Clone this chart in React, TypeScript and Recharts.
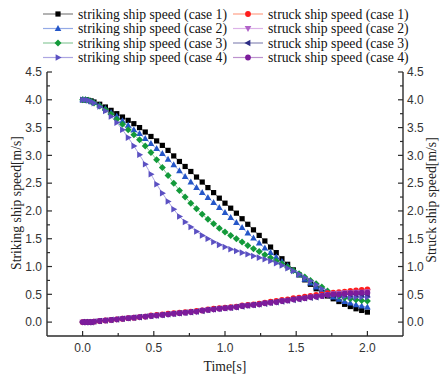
import React from 'react';
import { LineChart, Line, XAxis, YAxis } from 'recharts';

// time axis [s]
const times = [
  0, 0.02, 0.04, 0.06, 0.08, 0.12, 0.16, 0.2, 0.24, 0.28, 0.32, 0.36, 0.4, 0.44, 0.48,
  0.52, 0.56, 0.6, 0.64, 0.68, 0.72, 0.76, 0.8, 0.84, 0.88, 0.92, 0.96, 1.0, 1.04, 1.08,
  1.12, 1.16, 1.2, 1.24, 1.28, 1.32, 1.36, 1.4, 1.44, 1.48, 1.52, 1.56, 1.6, 1.64, 1.68,
  1.72, 1.76, 1.8, 1.84, 1.88, 1.92, 1.96, 2.0,
];

// striking ship speed [m/s]
const striking1 = [
  4.0, 4.0, 3.99, 3.98, 3.96,
  3.92, 3.87, 3.81, 3.75, 3.69, 3.63, 3.57, 3.5, 3.42, 3.34,
  3.26, 3.18, 3.09, 2.99, 2.89, 2.8, 2.71, 2.61, 2.52, 2.42,
  2.33, 2.23, 2.14, 2.05, 1.96, 1.86, 1.76, 1.66, 1.56, 1.46,
  1.35, 1.25, 1.14, 1.04, 0.94, 0.85, 0.76, 0.68, 0.6, 0.53,
  0.47, 0.42, 0.37, 0.32, 0.28, 0.24, 0.21, 0.18,
];
const striking2 = [
  4.0, 4.0, 3.99, 3.97, 3.95,
  3.9, 3.84, 3.77, 3.7, 3.62, 3.54, 3.46, 3.39, 3.3, 3.21,
  3.12, 3.03, 2.93, 2.83, 2.72, 2.62, 2.52, 2.42, 2.33, 2.24,
  2.15, 2.06, 1.97, 1.88, 1.79, 1.7, 1.6, 1.51, 1.42, 1.33,
  1.25, 1.17, 1.09, 1.01, 0.93, 0.85, 0.77, 0.7, 0.63, 0.56,
  0.5, 0.45, 0.41, 0.37, 0.34, 0.31, 0.29, 0.27,
];
const striking3 = [
  4.0, 4.0, 3.99, 3.97, 3.94,
  3.89, 3.82, 3.74, 3.65, 3.56, 3.46, 3.37, 3.28, 3.17, 3.05,
  2.92, 2.78, 2.64, 2.5, 2.37, 2.25, 2.14, 2.04, 1.94, 1.85,
  1.77, 1.69, 1.62, 1.56, 1.5, 1.44, 1.38, 1.32, 1.27, 1.21,
  1.16, 1.1, 1.05, 0.99, 0.93, 0.87, 0.81, 0.75, 0.69, 0.63,
  0.56, 0.51, 0.47, 0.44, 0.42, 0.4, 0.39, 0.38,
];
const striking4 = [
  4.0, 4.0, 3.99, 3.97, 3.94,
  3.88, 3.8, 3.7, 3.59, 3.46, 3.32, 3.17, 3.01, 2.84, 2.66,
  2.48, 2.32, 2.17, 2.03, 1.9, 1.8, 1.71, 1.63, 1.56, 1.5,
  1.44, 1.39, 1.35, 1.31, 1.28, 1.25, 1.22, 1.19, 1.16, 1.13,
  1.1, 1.06, 1.02, 0.97, 0.92, 0.86, 0.8, 0.74, 0.67, 0.6,
  0.54, 0.5, 0.48, 0.46, 0.45, 0.45, 0.45, 0.45,
];

// struck ship speed [m/s]
const struck1 = [
  0, 0, 0, 0, 0.01,
  0.02, 0.03, 0.04, 0.05, 0.06, 0.07, 0.08, 0.09, 0.1, 0.12,
  0.13, 0.14, 0.15, 0.16, 0.17, 0.18, 0.19, 0.2, 0.21, 0.23,
  0.24, 0.25, 0.26, 0.27, 0.28, 0.3, 0.31, 0.32, 0.33, 0.35,
  0.37, 0.38, 0.4, 0.41, 0.43, 0.44, 0.46, 0.47, 0.49, 0.5,
  0.52, 0.53, 0.54, 0.55, 0.56, 0.57, 0.58, 0.59,
];
const struck2 = [
  0, 0, 0, 0, 0.01,
  0.02, 0.03, 0.04, 0.05, 0.06, 0.07, 0.08, 0.09, 0.1, 0.11,
  0.12, 0.13, 0.14, 0.15, 0.16, 0.17, 0.18, 0.19, 0.21, 0.22,
  0.23, 0.24, 0.25, 0.26, 0.27, 0.29, 0.3, 0.31, 0.32, 0.34,
  0.35, 0.36, 0.38, 0.39, 0.41, 0.42, 0.43, 0.45, 0.46, 0.48,
  0.5, 0.51, 0.52, 0.53, 0.53, 0.54, 0.54, 0.55,
];
const struck3 = [
  0, 0, 0, 0, 0.01,
  0.02, 0.03, 0.04, 0.05, 0.06, 0.07, 0.08, 0.09, 0.1, 0.11,
  0.12, 0.13, 0.14, 0.15, 0.16, 0.17, 0.18, 0.19, 0.2, 0.22,
  0.23, 0.24, 0.25, 0.26, 0.27, 0.28, 0.3, 0.31, 0.32, 0.33,
  0.35, 0.36, 0.37, 0.39, 0.4, 0.41, 0.43, 0.44, 0.45, 0.47,
  0.48, 0.49, 0.49, 0.5, 0.5, 0.5, 0.5, 0.5,
];
const struck4 = [
  0, 0, 0, 0, 0.01,
  0.02, 0.03, 0.04, 0.05, 0.06, 0.07, 0.08, 0.09, 0.1, 0.11,
  0.12, 0.13, 0.14, 0.15, 0.16, 0.17, 0.18, 0.19, 0.21, 0.22,
  0.23, 0.24, 0.25, 0.26, 0.27, 0.29, 0.3, 0.31, 0.32, 0.34,
  0.35, 0.36, 0.38, 0.39, 0.41, 0.42, 0.43, 0.45, 0.46, 0.47,
  0.49, 0.5, 0.5, 0.51, 0.52, 0.52, 0.53, 0.53,
];

const xTicks = [0, 0.25, 0.5, 0.75, 1, 1.25, 1.5, 1.75, 2];
const yTicks = [0, 0.25, 0.5, 0.75, 1, 1.25, 1.5, 1.75, 2, 2.25, 2.5, 2.75, 3, 3.25, 3.5, 3.75, 4, 4.25, 4.5];

const SERIF = "'Liberation Serif', 'Times New Roman', serif";
const SANS = "'Liberation Sans', Arial, sans-serif";
const AXIS = '#2b2b2b';
const TICK_TEXT = '#333';

const series = [
  { key: 'striking1', name: 'striking ship speed (case 1)', values: striking1, axis: 'left', shape: 'square', color: '#000000', line: '#808080' },
  { key: 'striking2', name: 'striking ship speed (case 2)', values: striking2, axis: 'left', shape: 'up', color: '#2456c8', line: '#94aae6' },
  { key: 'striking3', name: 'striking ship speed (case 3)', values: striking3, axis: 'left', shape: 'diamond', color: '#139a3a', line: '#8cc99c' },
  { key: 'striking4', name: 'striking ship speed (case 4)', values: striking4, axis: 'left', shape: 'right', color: '#5b50c2', line: '#aca6e2' },
  { key: 'struck1', name: 'struck ship speed (case 1)', values: struck1, axis: 'right', shape: 'circle', color: '#ff1c1c', line: '#ffa088' },
  { key: 'struck2', name: 'struck ship speed (case 2)', values: struck2, axis: 'right', shape: 'down', color: '#b062c8', line: '#dcb2e8' },
  { key: 'struck3', name: 'struck ship speed (case 3)', values: struck3, axis: 'right', shape: 'left', color: '#2c2c84', line: '#8a8ab8' },
  { key: 'struck4', name: 'struck ship speed (case 4)', values: struck4, axis: 'right', shape: 'circle', color: '#7c1c9c', line: '#bc92ce' },
];

const data = times.map((t, i) => {
  const row: Record<string, number> = { t };
  series.forEach((s) => (row[s.key] = s.values[i]));
  return row;
});

function Marker({ cx, cy, shape, color }: { cx: number; cy: number; shape: string; color: string }) {
  if (cx == null || cy == null || isNaN(cx) || isNaN(cy)) return null;
  const p = (pts: number[][]) => pts.map(([a, b]) => `${cx + a},${cy + b}`).join(' ');
  switch (shape) {
    case 'square':
      return <rect x={cx - 2.6} y={cy - 2.6} width={5.2} height={5.2} fill={color} />;
    case 'circle':
      return <circle cx={cx} cy={cy} r={2.9} fill={color} />;
    case 'diamond':
      return <polygon points={p([[0, -3.5], [3.5, 0], [0, 3.5], [-3.5, 0]])} fill={color} />;
    case 'up':
      return <polygon points={p([[0, -3.6], [3.3, 2.4], [-3.3, 2.4]])} fill={color} />;
    case 'down':
      return <polygon points={p([[0, 3.6], [3.3, -2.4], [-3.3, -2.4]])} fill={color} />;
    case 'left':
      return <polygon points={p([[-3.6, 0], [2.4, -3.3], [2.4, 3.3]])} fill={color} />;
    case 'right':
      return <polygon points={p([[3.6, 0], [-2.4, -3.3], [-2.4, 3.3]])} fill={color} />;
    default:
      return null;
  }
}

const isMajor = (v: number) => Math.abs(v * 2 - Math.round(v * 2)) < 1e-6;

// ticks point inward, like the original plot; minor ticks are shorter
const LeftTick = (props: any) => {
  const { x, y, payload } = props;
  const v = payload.value;
  const major = isMajor(v);
  return (
    <g>
      <line x1={x + 5} x2={x + 5 + (major ? 5 : 3)} y1={y} y2={y} stroke={AXIS} strokeWidth={1.2} />
      {major && (
        <text x={x} y={y} dy="0.36em" textAnchor="end" fontFamily={SANS} fontSize={12} fill={TICK_TEXT}>
          {v.toFixed(1)}
        </text>
      )}
    </g>
  );
};

const RightTick = (props: any) => {
  const { x, y, payload } = props;
  const v = payload.value;
  const major = isMajor(v);
  return (
    <g>
      <line x1={x - 4} x2={x - 4 - (major ? 5 : 3)} y1={y} y2={y} stroke={AXIS} strokeWidth={1.2} />
      {major && (
        <text x={x} y={y} dy="0.36em" textAnchor="start" fontFamily={SANS} fontSize={12} fill={TICK_TEXT}>
          {v.toFixed(1)}
        </text>
      )}
    </g>
  );
};

const BottomTick = (props: any) => {
  const { x, y, payload } = props;
  const v = payload.value;
  const major = isMajor(v);
  return (
    <g>
      <line x1={x} x2={x} y1={y - 7} y2={y - 7 - (major ? 5 : 3)} stroke={AXIS} strokeWidth={1.2} />
      {major && (
        <text x={x} y={y} dy="0.75em" textAnchor="middle" fontFamily={SANS} fontSize={12} fill={TICK_TEXT}>
          {v.toFixed(1)}
        </text>
      )}
    </g>
  );
};

function Legend() {
  const rows = [0, 1, 2, 3];
  const rowY = [14, 28.5, 43, 57.5];
  return (
    <svg width={441} height={66} style={{ position: 'absolute', left: 0, top: 0 }}>
      {rows.map((r) =>
        [series[r], series[r + 4]].map((s, c) => {
          const x0 = c === 0 ? 43 : 233;
          const y = rowY[r];
          return (
            <g key={s.key}>
              <line x1={x0} x2={x0 + 30} y1={y} y2={y} stroke={s.line} strokeWidth={1.2} />
              <Marker cx={x0 + 15} cy={y} shape={s.shape} color={s.color} />
              <text x={x0 + 35} y={y} dy="0.33em" fontFamily={SERIF} fontSize={13.7} fill="#111">
                {s.name}
              </text>
            </g>
          );
        })
      )}
    </svg>
  );
}

export default function App() {
  return (
    <div style={{ position: 'absolute', left: 0, top: 0, width: 441, height: 376, background: '#fff', overflow: 'hidden' }}>
      <LineChart width={441} height={376} data={data} margin={{ top: 72, right: 0, bottom: 0, left: 7 }}>
        <XAxis
          dataKey="t"
          type="number"
          domain={[-0.25, 2.25]}
          ticks={xTicks}
          interval={0}
          height={40}
          tickSize={0}
          tickMargin={7}
          tickLine={false}
          axisLine={{ stroke: AXIS, strokeWidth: 1.4 }}
          tick={<BottomTick />}
        />
        <XAxis
          xAxisId="top"
          orientation="top"
          type="number"
          domain={[-0.25, 2.25]}
          height={0}
          tick={false}
          tickLine={false}
          axisLine={{ stroke: AXIS, strokeWidth: 1.4 }}
        />
        <YAxis
          yAxisId="left"
          type="number"
          domain={[-0.25, 4.5]}
          ticks={yTicks}
          interval={0}
          width={40}
          tickSize={0}
          tickMargin={5}
          tickLine={false}
          axisLine={{ stroke: AXIS, strokeWidth: 1.4 }}
          tick={<LeftTick />}
        />
        <YAxis
          yAxisId="right"
          orientation="right"
          type="number"
          domain={[-0.25, 4.5]}
          ticks={yTicks}
          interval={0}
          width={38}
          tickSize={0}
          tickMargin={4}
          tickLine={false}
          axisLine={{ stroke: AXIS, strokeWidth: 1.4 }}
          tick={<RightTick />}
        />
        {series.map((s) => (
          <Line
            key={s.key}
            yAxisId={s.axis}
            type="linear"
            dataKey={s.key}
            name={s.name}
            stroke={s.line}
            strokeWidth={1}
            isAnimationActive={false}
            dot={(p: any) => <Marker key={`${s.key}-${p.index}`} cx={p.cx} cy={p.cy} shape={s.shape} color={s.color} />}
            activeDot={false}
          />
        ))}
      </LineChart>
      <Legend />
      <div
        style={{
          position: 'absolute', left: 17, top: 203, transform: 'translate(-50%, -50%) rotate(-90deg)',
          whiteSpace: 'nowrap', fontFamily: SERIF, fontSize: 13.7, color: '#222',
        }}
      >
        Striking ship speed[m/s]
      </div>
      <div
        style={{
          position: 'absolute', left: 432, top: 200, transform: 'translate(-50%, -50%) rotate(-90deg)',
          whiteSpace: 'nowrap', fontFamily: SERIF, fontSize: 13.7, color: '#222', lineHeight: '14px',
        }}
      >
        Struck ship speed[m/s]
      </div>
      <div
        style={{
          position: 'absolute', left: 225, top: 367, transform: 'translate(-50%, -50%)',
          whiteSpace: 'nowrap', fontFamily: SERIF, fontSize: 13.7, color: '#222',
        }}
      >
        Time[s]
      </div>
    </div>
  );
}
